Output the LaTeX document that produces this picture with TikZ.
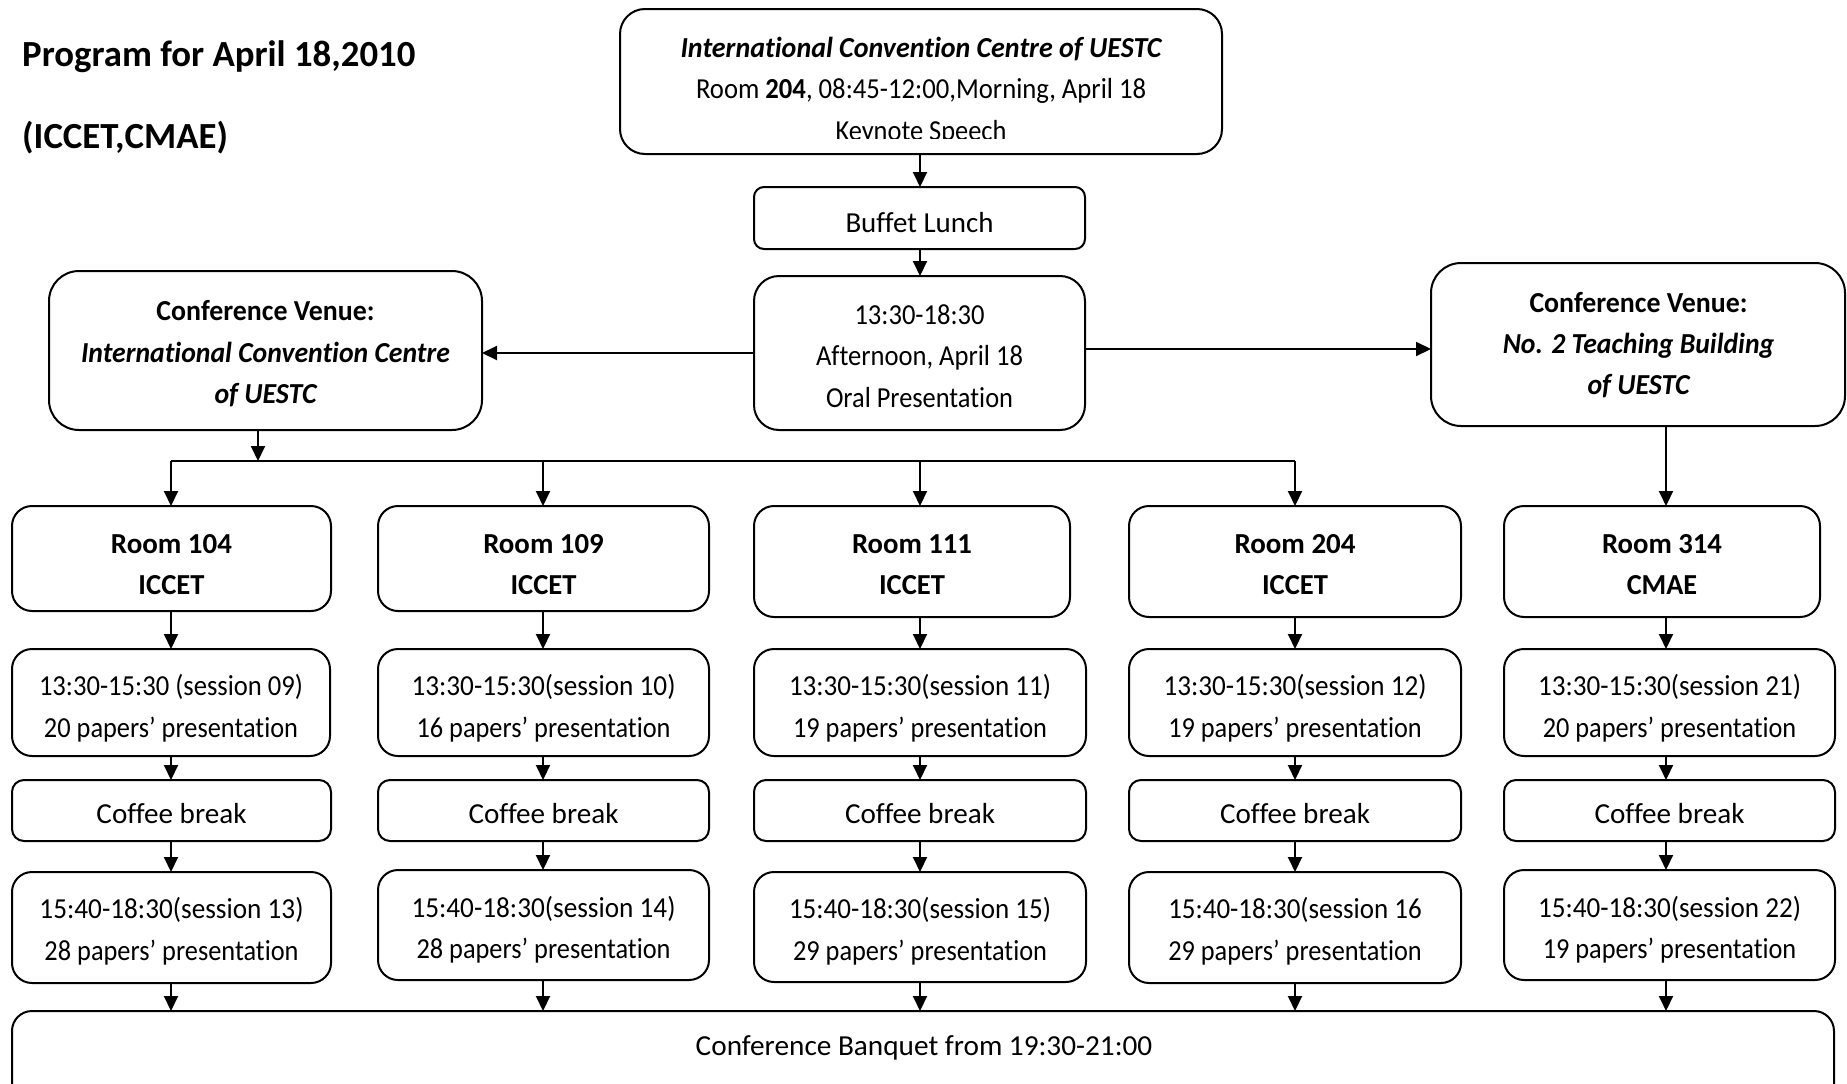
\documentclass[tikz,border=0pt]{standalone}
\usepackage{fontspec}
\usepackage{graphicx}
\setmainfont{Carlito}[Ligatures=NoCommon]
\usetikzlibrary{arrows.meta}
\newcommand{\bx}[6]{\node[box, rounded corners=#6, minimum width={#4-#2}, minimum height={#5-#3}] (#1) at ({(#2+#4)/2},{(#3+#5)/2}) {};}
\newcommand{\fw}[2]{\resizebox{#1pt}{\height}{#2}}
\begin{document}
\begin{tikzpicture}[x=1pt,y=-1pt,
  box/.style={draw, line width=2pt, inner sep=0pt, outer sep=0pt},
  txt/.style={anchor=base, inner sep=0pt, font=\fontsize{29}{35}\selectfont},
  ttl/.style={anchor=base west, inner sep=0pt, font=\bfseries\fontsize{36.8}{40}\selectfont},
  arr/.style={line width=2pt, -{Triangle[length=15pt,width=14pt]}},
  ln/.style={line width=2pt}]
\useasboundingbox (0,0) rectangle (1847,1084);
\clip (0,0) rectangle (1847,1084);
% column coordinates
\coordinate (colA) at (171,0);
\coordinate (colB) at (543,0);
\coordinate (colC) at (920,0);
\coordinate (colD) at (1295,0);
\coordinate (colE) at (1666,0);
\coordinate (colV) at (258,0);
\coordinate (hL) at (0,353);
\coordinate (hR) at (0,349);
\coordinate (busA) at (171,461);
\coordinate (busB) at (543,461);
\coordinate (busC) at (920,461);
\coordinate (busD) at (1295,461);
\coordinate (busV) at (258,461);
% title
\node[ttl] (title1) at (22,66) {Program for April 18,2010};
\node[ttl] (title2) at (22,148) {(ICCET,CMAE)};
% boxes
\bx{top}{620}{9}{1222}{154}{25}
\bx{lunch}{754}{187}{1085}{249}{10}
\bx{oral}{754}{276}{1085}{430}{25}
\bx{venueL}{49}{271}{482}{430}{30}
\bx{venueR}{1431}{263}{1845}{426}{30}
\bx{r104}{12}{506}{331}{611}{20}
\bx{r109}{378}{506}{709}{611}{20}
\bx{r111}{754}{506}{1070}{617}{20}
\bx{r204}{1129}{506}{1461}{617}{20}
\bx{r314}{1504}{506}{1820}{617}{20}
\bx{s09}{12}{649}{330}{756}{20}
\bx{s10}{378}{649}{709}{756}{20}
\bx{s11}{754}{649}{1086}{756}{20}
\bx{s12}{1129}{649}{1461}{756}{20}
\bx{s21}{1504}{649}{1835}{756}{20}
\bx{cb1}{12}{780}{331}{841}{12}
\bx{cb2}{378}{780}{709}{841}{12}
\bx{cb3}{754}{780}{1086}{841}{12}
\bx{cb4}{1129}{780}{1461}{841}{12}
\bx{cb5}{1504}{780}{1835}{841}{12}
\bx{s13}{12}{872}{331}{983}{20}
\bx{s14}{378}{870}{709}{980}{20}
\bx{s15}{754}{872}{1086}{982}{20}
\bx{s16}{1129}{872}{1461}{983}{20}
\bx{s22}{1504}{870}{1835}{980}{20}
\bx{banq}{12}{1011}{1834}{1110}{20}
% texts: top
\node[txt] (tTop1) at (921,57) {\fw{481}{\bfseries\itshape International Convention Centre of UESTC}};
\node[txt] (tTop2) at (921,98) {\fw{450}{Room \textbf{204}, 08:45-12:00,Morning, April 18}};
\begin{scope}
\clip (620,100) rectangle (1222,138.5);
\node[txt] (tTop3) at (921,140) {\fw{171}{Keynote Speech}};
\end{scope}
\node[txt] (tLunch) at (919.5,232) {\fw{148}{Buffet Lunch}};
\node[txt] (tOral1) at (919.5,324) {\fw{130}{13:30-18:30}};
\node[txt] (tOral2) at (919.5,365) {\fw{207}{Afternoon, April 18}};
\node[txt] (tOral3) at (919.5,407) {\fw{187}{Oral Presentation}};
\node[txt] (tVL1) at (265.5,320) {\fw{218}{\bfseries Conference Venue:}};
\node[txt] (tVL2) at (265.5,362) {\fw{369}{\bfseries\itshape International Convention Centre}};
\node[txt] (tVL3) at (265.5,403) {\fw{102}{\bfseries\itshape of UESTC}};
\node[txt] (tVR1) at (1638.5,312) {\fw{218}{\bfseries Conference Venue:}};
\node[txt] (tVR2) at (1638.5,353) {\fw{271.5}{\bfseries\itshape No. 2 Teaching Building}};
\node[txt] (tVR3) at (1638.5,394) {\fw{102}{\bfseries\itshape of UESTC}};
% rooms
\node[txt] (tR1a) at (171.5,553) {\fw{121}{\bfseries Room 104}};
\node[txt] (tR1b) at (171.5,594) {\fw{66}{\bfseries ICCET}};
\node[txt] (tR2a) at (543.5,553) {\fw{120.5}{\bfseries Room 109}};
\node[txt] (tR2b) at (543.5,594) {\fw{66}{\bfseries ICCET}};
\node[txt] (tR3a) at (912,553) {\fw{120}{\bfseries Room 111}};
\node[txt] (tR3b) at (912,594) {\fw{66}{\bfseries ICCET}};
\node[txt] (tR4a) at (1295,553) {\fw{121}{\bfseries Room 204}};
\node[txt] (tR4b) at (1295,594) {\fw{66}{\bfseries ICCET}};
\node[txt] (tR5a) at (1662,553) {\fw{120}{\bfseries Room 314}};
\node[txt] (tR5b) at (1662,594) {\fw{70.5}{\bfseries CMAE}};
% sessions 1
\node[txt] (tS1a) at (171,695) {\fw{264}{13:30-15:30 (session 09)}};
\node[txt] (tS1b) at (171,737) {\fw{254}{20 papers’ presentation}};
\node[txt] (tS2a) at (543.5,695) {\fw{264}{13:30-15:30(session 10)}};
\node[txt] (tS2b) at (543.5,737) {\fw{254}{16 papers’ presentation}};
\node[txt] (tS3a) at (920,695) {\fw{262}{13:30-15:30(session 11)}};
\node[txt] (tS3b) at (920,737) {\fw{254}{19 papers’ presentation}};
\node[txt] (tS4a) at (1295,695) {\fw{263}{13:30-15:30(session 12)}};
\node[txt] (tS4b) at (1295,737) {\fw{253.5}{19 papers’ presentation}};
\node[txt] (tS5a) at (1669.5,695) {\fw{263}{13:30-15:30(session 21)}};
\node[txt] (tS5b) at (1669.5,737) {\fw{253.5}{20 papers’ presentation}};
% coffee
\node[txt] (tC1) at (171.5,823) {\fw{150}{Coffee break}};
\node[txt] (tC2) at (543.5,823) {\fw{150}{Coffee break}};
\node[txt] (tC3) at (920,823) {\fw{150}{Coffee break}};
\node[txt] (tC4) at (1295,823) {\fw{150}{Coffee break}};
\node[txt] (tC5) at (1669.5,823) {\fw{150}{Coffee break}};
% sessions 2
\node[txt] (tT1a) at (171.5,918) {\fw{264}{15:40-18:30(session 13)}};
\node[txt] (tT1b) at (171.5,960) {\fw{254}{28 papers’ presentation}};
\node[txt] (tT2a) at (543.5,917) {\fw{264}{15:40-18:30(session 14)}};
\node[txt] (tT2b) at (543.5,958) {\fw{254}{28 papers’ presentation}};
\node[txt] (tT3a) at (920,918) {\fw{262}{15:40-18:30(session 15)}};
\node[txt] (tT3b) at (920,960) {\fw{254}{29 papers’ presentation}};
\node[txt] (tT4a) at (1295,918) {\fw{253.5}{15:40-18:30(session 16}};
\node[txt] (tT4b) at (1295,960) {\fw{253.5}{29 papers’ presentation}};
\node[txt] (tT5a) at (1669.5,917) {\fw{263}{15:40-18:30(session 22)}};
\node[txt] (tT5b) at (1669.5,958) {\fw{253.5}{19 papers’ presentation}};
\node[txt] (tBanq) at (924,1055) {\fw{456.5}{Conference Banquet from 19:30-21:00}};
% connectors top part
\draw[arr] (top.south -| colC) -- (lunch.north -| colC);
\draw[arr] (lunch.south -| colC) -- (oral.north -| colC);
\draw[arr] (oral.west |- hL) -- (venueL.east |- hL);
\draw[arr] (oral.east |- hR) -- (venueR.west |- hR);
\draw[arr] (venueL.south -| colV) -- (busV);
\draw[ln] (busA) -- (busD);
\draw[arr] (busA) -- (r104.north -| colA);
\draw[arr] (busB) -- (r109.north -| colB);
\draw[arr] (busC) -- (r111.north -| colC);
\draw[arr] (busD) -- (r204.north -| colD);
\draw[arr] (venueR.south -| colE) -- (r314.north -| colE);
% column connectors
\draw[arr] (r104.south -| colA) -- (s09.north -| colA);
\draw[arr] (s09.south -| colA) -- (cb1.north -| colA);
\draw[arr] (cb1.south -| colA) -- (s13.north -| colA);
\draw[arr] (s13.south -| colA) -- (banq.north -| colA);
\draw[arr] (r109.south -| colB) -- (s10.north -| colB);
\draw[arr] (s10.south -| colB) -- (cb2.north -| colB);
\draw[arr] (cb2.south -| colB) -- (s14.north -| colB);
\draw[arr] (s14.south -| colB) -- (banq.north -| colB);
\draw[arr] (r111.south -| colC) -- (s11.north -| colC);
\draw[arr] (s11.south -| colC) -- (cb3.north -| colC);
\draw[arr] (cb3.south -| colC) -- (s15.north -| colC);
\draw[arr] (s15.south -| colC) -- (banq.north -| colC);
\draw[arr] (r204.south -| colD) -- (s12.north -| colD);
\draw[arr] (s12.south -| colD) -- (cb4.north -| colD);
\draw[arr] (cb4.south -| colD) -- (s16.north -| colD);
\draw[arr] (s16.south -| colD) -- (banq.north -| colD);
\draw[arr] (r314.south -| colE) -- (s21.north -| colE);
\draw[arr] (s21.south -| colE) -- (cb5.north -| colE);
\draw[arr] (cb5.south -| colE) -- (s22.north -| colE);
\draw[arr] (s22.south -| colE) -- (banq.north -| colE);
\end{tikzpicture}
\end{document}
